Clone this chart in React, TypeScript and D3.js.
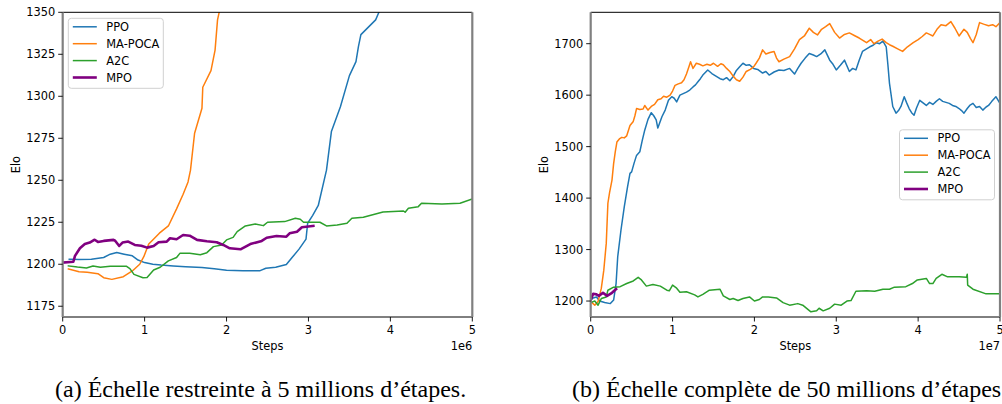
import React from 'react';
import * as d3 from 'd3';

type Pt = [number, number];

// left panel: steps in units of 1e6
const leftPPO: Pt[] = [[0.08,1203],[0.2,1202.8],[0.35,1203],[0.5,1204],[0.58,1206],[0.66,1207],[0.75,1206],[0.85,1205],[0.92,1202.5],[1.0,1201],[1.1,1200],[1.2,1199.5],[1.35,1199],[1.5,1198.5],[1.7,1198],[1.85,1197.3],[2.0,1196.5],[2.2,1196.2],[2.41,1196.2],[2.48,1197.6],[2.6,1198.2],[2.73,1199.8],[2.8,1204],[2.885,1209],[2.97,1215],[2.99,1224.4],[3.05,1229],[3.12,1235],[3.22,1256],[3.28,1279],[3.39,1293.8],[3.5,1312.3],[3.58,1320.6],[3.61,1329.6],[3.64,1336.7],[3.82,1345.5],[3.86,1350],[3.95,1365],[4.1,1385],[4.3,1405],[4.6,1425],[5.0,1440]];
const leftPOCA: Pt[] = [[0.07,1197.2],[0.2,1195.6],[0.3,1195.2],[0.43,1194.4],[0.5,1192],[0.6,1191],[0.74,1192.6],[0.85,1196],[0.94,1200],[0.99,1204.5],[1.05,1212],[1.09,1214],[1.18,1218.5],[1.29,1222.8],[1.39,1233],[1.47,1241.7],[1.53,1249],[1.56,1256],[1.61,1278],[1.7,1292.9],[1.71,1305.4],[1.81,1315.3],[1.86,1327.5],[1.89,1345.5],[1.91,1350],[2.0,1380],[2.2,1420],[2.6,1460],[3.0,1490],[4.0,1530],[5.0,1560]];
const leftA2C: Pt[] = [[0.07,1199],[0.18,1198.3],[0.29,1197.8],[0.37,1199],[0.46,1198.2],[0.58,1198.8],[0.78,1198.8],[0.82,1197.4],[0.87,1194],[0.98,1192],[1.03,1192.1],[1.11,1196.6],[1.19,1198.2],[1.29,1202],[1.39,1204],[1.43,1206.5],[1.55,1206.5],[1.68,1205.7],[1.76,1206.9],[1.84,1210.5],[1.94,1211.5],[2.0,1214.5],[2.08,1216],[2.13,1219.4],[2.23,1222.8],[2.35,1224],[2.45,1223],[2.5,1225],[2.71,1225.4],[2.84,1227.4],[2.9,1226.8],[2.94,1225],[3.14,1225],[3.22,1222.8],[3.35,1223.4],[3.47,1224.4],[3.53,1227.4],[3.67,1228],[3.91,1231.1],[4.16,1231.7],[4.18,1231],[4.22,1233.3],[4.34,1234.3],[4.38,1236.3],[4.63,1235.9],[4.85,1236.3],[5.0,1238.9]];
const leftMPO: Pt[] = [[0,1201],[0.13,1201.5],[0.15,1205],[0.21,1209.5],[0.27,1212],[0.33,1212.9],[0.39,1214.6],[0.43,1213.3],[0.5,1213.9],[0.62,1214.5],[0.64,1214],[0.69,1210.9],[0.73,1212.9],[0.8,1213.5],[0.88,1211.5],[0.96,1211],[1.03,1209.9],[1.11,1210.9],[1.17,1213.1],[1.27,1213.5],[1.31,1215.5],[1.39,1214.9],[1.47,1217.4],[1.55,1217],[1.64,1214.5],[1.76,1213.7],[1.88,1213.1],[1.96,1211.5],[2.04,1209.5],[2.17,1208.9],[2.29,1212],[2.43,1213.9],[2.49,1215.8],[2.61,1216.8],[2.73,1216.4],[2.77,1218.4],[2.86,1219.4],[2.92,1222],[3.06,1222.8]];

// right panel: steps in units of 1e7
const rightPPO: Pt[] = [[0,1202],[0.03,1206],[0.07,1208],[0.11,1200],[0.17,1197],[0.24,1195],[0.28,1202],[0.31,1234],[0.33,1286],[0.37,1338],[0.41,1383],[0.45,1422],[0.48,1448],[0.5,1451],[0.53,1468],[0.56,1483],[0.6,1490],[0.63,1512],[0.66,1532],[0.7,1553],[0.74,1566],[0.77,1560],[0.8,1552],[0.82,1536],[0.84,1545],[0.87,1558],[0.91,1571],[0.95,1590],[0.99,1597],[1.02,1594],[1.05,1587],[1.09,1600],[1.13,1603],[1.17,1606],[1.21,1610],[1.25,1616],[1.28,1620],[1.31,1626],[1.34,1632],[1.37,1639],[1.43,1649],[1.48,1642],[1.54,1636],[1.58,1632],[1.62,1630],[1.66,1634],[1.7,1628],[1.74,1636],[1.78,1648],[1.82,1655],[1.86,1662],[1.9,1658],[1.94,1659],[1.99,1652],[2.04,1650],[2.1,1643],[2.14,1646],[2.18,1639],[2.24,1645],[2.3,1649],[2.36,1648],[2.43,1652],[2.49,1641],[2.53,1652],[2.57,1662],[2.62,1672],[2.67,1681],[2.72,1678],[2.76,1675],[2.81,1680],[2.86,1688],[2.92,1668],[2.96,1660],[3.0,1649],[3.05,1658],[3.1,1668],[3.16,1646],[3.2,1652],[3.24,1649],[3.28,1668],[3.32,1685],[3.37,1690],[3.41,1694],[3.45,1697],[3.49,1702],[3.53,1700],[3.57,1705],[3.61,1694],[3.63,1660],[3.65,1623],[3.69,1578],[3.73,1565],[3.76,1570],[3.79,1578],[3.83,1597],[3.86,1585],[3.89,1574],[3.92,1566],[3.95,1561],[3.98,1575],[4.02,1590],[4.06,1585],[4.1,1580],[4.14,1586],[4.18,1582],[4.22,1588],[4.26,1593],[4.3,1588],[4.34,1586],[4.38,1584],[4.42,1580],[4.46,1578],[4.5,1574],[4.53,1570],[4.56,1565],[4.6,1574],[4.63,1580],[4.67,1584],[4.71,1576],[4.75,1578],[4.79,1571],[4.83,1577],[4.86,1580],[4.9,1588],[4.95,1597],[5.0,1584]];
const rightPOCA: Pt[] = [[0,1199],[0.05,1192],[0.09,1199],[0.13,1225],[0.16,1260],[0.19,1312],[0.21,1390],[0.23,1410],[0.26,1435],[0.28,1467],[0.3,1490],[0.32,1509],[0.35,1515],[0.38,1518],[0.41,1517],[0.44,1521],[0.48,1541],[0.52,1549],[0.54,1560],[0.56,1574],[0.6,1572],[0.64,1573],[0.66,1580],[0.7,1571],[0.74,1578],[0.78,1582],[0.82,1591],[0.86,1593],[0.89,1598],[0.93,1596],[0.97,1600],[1.0,1608],[1.03,1619],[1.07,1622],[1.11,1624],[1.14,1630],[1.17,1641],[1.2,1655],[1.22,1665],[1.25,1652],[1.29,1662],[1.33,1660],[1.37,1657],[1.42,1660],[1.46,1658],[1.5,1662],[1.55,1656],[1.59,1661],[1.62,1659],[1.66,1652],[1.7,1646],[1.74,1637],[1.78,1630],[1.82,1627],[1.86,1635],[1.9,1646],[1.95,1650],[1.99,1655],[2.02,1662],[2.06,1672],[2.1,1688],[2.14,1680],[2.19,1683],[2.24,1685],[2.27,1672],[2.3,1665],[2.36,1670],[2.43,1675],[2.49,1690],[2.55,1708],[2.61,1715],[2.67,1730],[2.72,1722],[2.77,1717],[2.82,1728],[2.87,1733],[2.92,1739],[2.98,1722],[3.04,1711],[3.1,1718],[3.16,1721],[3.22,1716],[3.28,1711],[3.33,1706],[3.37,1702],[3.42,1708],[3.46,1700],[3.51,1705],[3.56,1709],[3.61,1702],[3.65,1698],[3.69,1695],[3.75,1690],[3.81,1685],[3.87,1694],[3.94,1702],[4.0,1708],[4.05,1714],[4.1,1721],[4.14,1718],[4.18,1715],[4.23,1728],[4.28,1737],[4.34,1735],[4.4,1743],[4.45,1730],[4.5,1715],[4.56,1728],[4.6,1722],[4.64,1710],[4.67,1702],[4.71,1718],[4.75,1741],[4.8,1738],[4.86,1735],[4.91,1737],[4.95,1733],[5.0,1741]];
const rightA2C: Pt[] = [[0,1197],[0.05,1200],[0.09,1192],[0.13,1205],[0.19,1208],[0.21,1221],[0.28,1227],[0.36,1228],[0.44,1234],[0.52,1239],[0.58,1246],[0.62,1241],[0.68,1229],[0.76,1232],[0.85,1229],[0.93,1221],[0.96,1220],[1.0,1231],[1.05,1225],[1.09,1217],[1.17,1218],[1.27,1212],[1.31,1208],[1.37,1213],[1.45,1221],[1.58,1223],[1.62,1210],[1.7,1203],[1.74,1205],[1.8,1201],[1.86,1205],[1.94,1208],[2.0,1200],[2.06,1203],[2.1,1208],[2.17,1208],[2.27,1206],[2.35,1197],[2.43,1192],[2.53,1195],[2.59,1192],[2.69,1179],[2.76,1181],[2.79,1186],[2.84,1181],[2.92,1186],[2.98,1194],[3.06,1192],[3.13,1200],[3.18,1201],[3.24,1219],[3.37,1220],[3.47,1219],[3.57,1223],[3.65,1223],[3.71,1227],[3.85,1228],[3.93,1234],[3.99,1241],[4.1,1244],[4.14,1234],[4.18,1234],[4.22,1244],[4.29,1252],[4.36,1247],[4.5,1247],[4.59,1246],[4.6,1252],[4.605,1231],[4.67,1223],[4.83,1214],[5.0,1214]];
const rightMPO: Pt[] = [[0,1202],[0.03,1214],[0.07,1213],[0.1,1210],[0.15,1216],[0.2,1210],[0.26,1216],[0.31,1223]];

const names = ['PPO', 'MA-POCA', 'A2C', 'MPO'];
const colors = ['#1f77b4', '#ff7f0e', '#2ca02c', '#800080'];
const widths = [1.5, 1.5, 1.5, 2.6];

const xTicks = [0, 1, 2, 3, 4, 5];
const leftYTicks = [1175, 1200, 1225, 1250, 1275, 1300, 1325, 1350];
const rightYTicks = [1200, 1300, 1400, 1500, 1600, 1700];

const FONT = 'DejaVu Sans, sans-serif';

function Panel({ id, x0, x1, yDomain, yTicks, series, exponent, legendX, legendY, legendW }: any) {
  const top = 12.3, bottom = 317;
  const x = d3.scaleLinear().domain([0, 5]).range([x0, x1]);
  const y = d3.scaleLinear().domain(yDomain).range([bottom, top]);
  const line = d3.line<Pt>().x(d => x(d[0])).y(d => y(d[1]));

  return (
    <g>
      <defs>
        <clipPath id={id}>
          <rect x={x0} y={top} width={x1 - x0} height={bottom - top} />
        </clipPath>
      </defs>
      <g clipPath={`url(#${id})`}>
        {series.map((s: Pt[], i: number) => (
          <path key={i} d={line(s) || ''} fill="none" stroke={colors[i]} strokeWidth={widths[i]} strokeLinejoin="round" strokeLinecap="square" />
        ))}
      </g>
      {/* spines */}
      <line x1={x0} x2={x1} y1={top} y2={top} stroke="#000" strokeWidth={1} />
      <line x1={x0} x2={x1} y1={bottom} y2={bottom} stroke="#000" strokeWidth={1} />
      <line x1={x0} x2={x0} y1={top} y2={bottom} stroke="#808080" strokeWidth={2.2} />
      <line x1={x1} x2={x1} y1={top} y2={bottom} stroke="#808080" strokeWidth={2.2} />
      {/* y ticks */}
      {yTicks.map((t: number) => (
        <g key={t}>
          <line x1={x0 - 4.5} x2={x0} y1={y(t)} y2={y(t)} stroke="#000" strokeWidth={0.9} />
          <text x={x0 - 7.5} y={y(t)} dy="0.36em" textAnchor="end" fontSize={11.4} fontFamily={FONT} fill="#000">{t}</text>
        </g>
      ))}
      {/* x ticks */}
      {xTicks.map(t => (
        <g key={t}>
          <line x1={x(t)} x2={x(t)} y1={bottom} y2={bottom + 4.5} stroke="#000" strokeWidth={0.9} />
          <text x={x(t)} y={333.5} textAnchor="middle" fontSize={11.4} fontFamily={FONT} fill="#000">{t}</text>
        </g>
      ))}
      <text x={x1} y={349.5} textAnchor="end" fontSize={11.4} fontFamily={FONT} fill="#000">{exponent}</text>
      <text x={(x0 + x1) / 2} y={349.5} textAnchor="middle" fontSize={11.4} fontFamily={FONT} fill="#000">Steps</text>
      <text transform={`translate(${x0 - 43},${(top + bottom) / 2}) rotate(-90)`} textAnchor="middle" fontSize={11.4} fontFamily={FONT} fill="#000">Elo</text>
      {/* legend */}
      <rect x={legendX} y={legendY} width={legendW} height={70} rx={3} fill="#fff" fillOpacity={0.8} stroke="#d0d0d0" strokeWidth={1} />
      {names.map((n, i) => (
        <g key={n}>
          <line x1={legendX + 4.5} x2={legendX + 28.5} y1={legendY + 8.5 + i * 16.9} y2={legendY + 8.5 + i * 16.9} stroke={colors[i]} strokeWidth={widths[i]} />
          <text x={legendX + 38} y={legendY + 8.5 + i * 16.9} dy="0.36em" fontSize={11.4} fontFamily={FONT} fill="#000">{n}</text>
        </g>
      ))}
    </g>
  );
}

export default function App() {
  return (
    <div style={{ position: 'fixed', left: 0, top: 0, background: '#fff' }}>
      <svg width={1002} height={404} style={{ display: 'block' }}>
        <rect width={1002} height={404} fill="#fff" />
        <Panel id="clipA" x0={62.7} x1={472.3} yDomain={[1168.6, 1350]} yTicks={leftYTicks}
          series={[leftPPO, leftPOCA, leftA2C, leftMPO]} exponent="1e6" legendX={68.3} legendY={18.3} legendW={95} />
        <Panel id="clipB" x0={590.7} x1={1000} yDomain={[1169, 1761]} yTicks={rightYTicks}
          series={[rightPPO, rightPOCA, rightA2C, rightMPO]} exponent="1e7" legendX={899.5} legendY={129.8} legendW={95} />
        <text x={55} y={397} fontSize={24} fontFamily="Liberation Serif, Times New Roman, serif" fill="#000">(a) Échelle restreinte à 5 millions d’étapes.</text>
        <text x={572} y={397} fontSize={24} fontFamily="Liberation Serif, Times New Roman, serif" fill="#000">(b) Échelle complète de 50 millions d’étapes.</text>
      </svg>
    </div>
  );
}
